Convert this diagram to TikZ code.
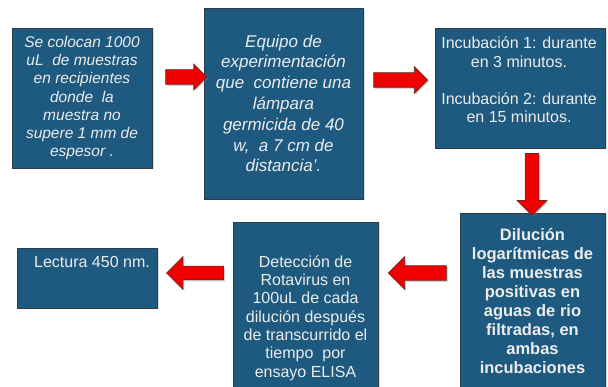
\documentclass[tikz,border=0pt]{standalone}
\usepackage{fontspec}
\setmainfont{Liberation Sans}
\usetikzlibrary{shapes.arrows,shadows,calc}
\definecolor{boxfill}{RGB}{30,90,127}
\definecolor{boxline}{RGB}{45,60,75}
\definecolor{boxtext}{RGB}{236,236,236}
\definecolor{arrred}{RGB}{242,0,0}
\definecolor{arrline}{RGB}{105,40,40}
\begin{document}
\begin{tikzpicture}[x=1pt,y=-1pt,
  box/.style={draw=boxline, line width=0.8pt, fill=boxfill, text=boxtext,
    align=center, inner sep=0pt,
    drop shadow={opacity=0.25, shadow xshift=1.5pt, shadow yshift=-1.5pt}},
  txt/.style={text=boxtext, align=center, inner sep=0pt},
  barrow/.style={single arrow, draw=arrline, fill=arrred, line width=0.7pt,
    inner xsep=0pt, minimum width=0pt,
    drop shadow={opacity=0.35, shadow xshift=1.5pt, shadow yshift=-1.5pt}}
]
\useasboundingbox (0,0) rectangle (608,387);
\fill[white] (0,0) rectangle (608,387);

% boxes
\node[box, minimum width=140pt, minimum height=140pt,
  font=\fontsize{15.5}{18.3}\selectfont\itshape] (b1) at (82,98)
  {Se colocan 1000\\uL\ \ de muestras\\en recipientes\\donde\ \ la\\muestra no\\supere 1 mm de\\espesor .};
\node[box, minimum width=159pt, minimum height=191pt,
  font=\fontsize{17}{20.8}\selectfont\itshape] (b2) at (283.5,103.5)
  {Equipo de\\experimentación\\que\ \ contiene una\\lámpara\\germicida\ de 40\\w,\ \ a 7 cm de\\distancia'.};
\node[box, minimum width=170pt, minimum height=120pt] (b3) at (520,88) {};
\node[txt, font=\fontsize{16}{18.5}\selectfont] (t3) at (519,80)
  {Incubación 1: durante\\en 3 minutos.\\[18.5pt]Incubación 2: durante\\en 15 minutos.};
\node[box, minimum width=145pt, minimum height=176pt,
  font=\fontsize{16.5}{18.9}\selectfont\bfseries] (b4) at (532.5,301)
  {Dilución\\logarítmicas de\\las muestras\\positivas en\\aguas de rio\\filtradas, en\\ambas\\incubaciones};
\node[box, minimum width=145pt, minimum height=192pt,
  font=\fontsize{16}{18.3}\selectfont] (b5) at (305.5,318)
  {Detección de\\Rotavirus en\\100uL de cada\\dilución después\\de transcurrido el\\tiempo\ \ por\\ensayo ELISA};
\node[box, minimum width=140pt, minimum height=60pt] (b6) at (87,278) {};
\node[txt, font=\fontsize{16}{18.5}\selectfont] (t6) at (92,262) {Lectura 450 nm.};

% arrows
\node[barrow, minimum height=41pt, inner ysep=7pt, single arrow head extend=5.5pt] (a1) at (182.5,77) {};
\node[barrow, minimum height=54pt, inner ysep=7pt, single arrow head extend=6pt] (a2) at (397,80) {};
\node[barrow, minimum height=62pt, inner xsep=6.5pt, inner ysep=0pt, single arrow head extend=8pt, shape border rotate=270] (a3) at (532,181) {};
\node[barrow, minimum height=58pt, inner ysep=7pt, single arrow head extend=9pt, shape border rotate=180] (a4) at (421,273) {};
\node[barrow, minimum height=57pt, inner ysep=6.5pt, single arrow head extend=9.5pt, shape border rotate=180] (a5) at (198.5,273) {};
\end{tikzpicture}
\end{document}
